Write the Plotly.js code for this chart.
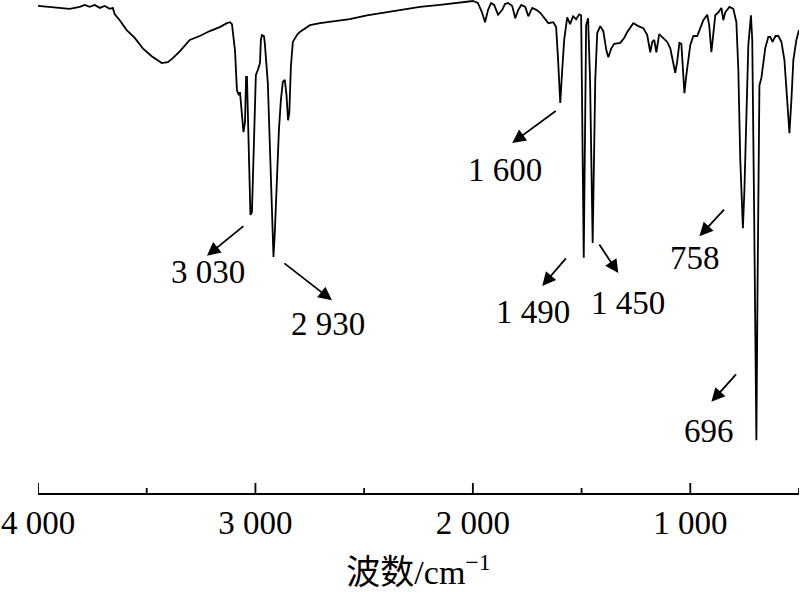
<!DOCTYPE html>
<html>
<head>
<meta charset="utf-8">
<script src="https://cdn.plot.ly/plotly-3.0.1.min.js"></script>
<style>html,body{margin:0;padding:0;background:#fff;}#chart{width:800px;height:597px;}</style>
</head>
<body>
<div id="chart"></div>
<script>
// Wavenumber (cm^-1) and transmittance (%)
const wavenumber = [4000,3946,3900,3854,3808,3785,3762,3739,3716,3693,3670,3656,3647,3624,3592,3555,3518,3477,3431,3403,3380,3348,3302,3256,3210,3164,3131,3117,3108,3094,3085,3076,3071,3062,3055,3048,3043,3039,3032,3023,3016,3007,2998,2989,2979,2975,2970,2961,2957,2943,2934,2924,2917,2911,2901,2892,2883,2874,2865,2857,2850,2844,2837,2828,2809,2796,2749,2703,2634,2566,2487,2404,2335,2243,2151,2082,2000,1977,1958,1944,1930,1916,1902,1884,1865,1852,1838,1819,1805,1791,1777,1759,1745,1727,1708,1690,1672,1653,1630,1617,1608,1598,1589,1580,1566,1553,1539,1525,1511,1502,1490,1479,1470,1461,1449,1437,1428,1414,1400,1386,1377,1363,1350,1322,1304,1290,1262,1239,1216,1198,1184,1175,1166,1156,1143,1124,1106,1092,1078,1069,1060,1050,1041,1034,1027,1018,1009,1000,986,968,954,940,922,913,903,894,885,871,857,848,839,820,802,788,779,770,758,751,742,733,721,715,707,700,696,691,687,682,673,664,655,641,632,622,608,595,581,567,553,544,535,526,512,500];
const transmittance = [98.8,98.6,98.4,98.2,98.6,99.0,98.6,99.0,98.4,98.8,98.2,98.4,97.1,95.9,93.9,92.3,90.2,88.6,87.2,87.4,88.2,89.6,91.9,92.7,93.7,94.5,95.3,95.5,95.1,89.8,81.7,80.7,81.3,76.7,73.2,75.2,84.4,84.4,69.6,56.4,57.0,69.6,84.8,85.8,87.2,91.9,92.9,92.7,91.3,83.2,71.6,57.4,47.9,52.7,65.3,73.6,79.7,83.4,83.8,80.7,75.6,77.2,86.4,91.5,92.9,93.5,94.9,95.3,95.7,96.1,96.9,97.5,98.0,98.6,99.0,99.4,99.8,99.4,97.5,95.5,98.0,99.4,99.0,97.0,98.0,99.2,99.4,98.8,96.3,98.0,99.0,98.6,96.7,98.4,98.0,97.4,96.3,95.3,95.5,94.5,87.8,79.1,85.8,91.9,96.5,95.1,96.7,96.1,97.1,96.9,47.7,94.9,96.3,83.8,50.7,83.8,93.3,94.7,93.7,89.8,88.4,90.2,91.1,91.3,92.3,93.5,95.3,94.7,94.3,92.9,89.4,91.5,91.9,89.4,93.1,92.3,91.5,90.2,86.8,85.2,87.6,91.3,91.1,84.8,81.1,84.8,87.8,90.9,92.7,92.7,94.3,95.9,97.0,94.9,89.4,94.0,96.9,97.5,98.4,95.9,97.5,98.6,98.2,95.5,85.8,67.5,53.7,61.5,77.7,90.9,96.9,91.9,59.9,22.9,10.7,39.9,69.6,82.7,84.2,87.8,90.3,92.5,92.5,91.5,92.7,92.7,91.5,87.8,79.7,73.0,79.7,87.8,91.9,93.9];

const tickValues = [4000, 3000, 2000, 1000];
const tickLabels = ['4 000', '3 000', '2 000', '1 000'];
const minorTickValues = [3500, 2500, 1500, 500];

// Peak labels: text, label position, arrow head position, arrow tail offset (px)
const peakLabels = ['1 600', '3 030', '2 930', '1 490', '1 450', '758', '696'];
const labelX = [1851, 3219, 2666, 1722, 1285, 977, 912];
const labelY = [65.5, 44.8, 34.3, 36.7, 38.5, 47.7, 12.6];
const arrowHeadX = [1819, 3223, 2648, 1681, 1331, 958, 903];
const arrowHeadY = [71.0, 48.1, 39.1, 42.0, 44.6, 52.1, 18.5];
const arrowTailDX = [45, 38, -49, 25, -20, 26, 26];
const arrowTailDY = [-33, -31, -38, -29, -30, -28, -29];

const serif = 'Liberation Serif, Times New Roman, serif';
const annotations = [];
peakLabels.forEach((t, i) => {
  annotations.push({
    x: arrowHeadX[i], y: arrowHeadY[i], xref: 'x', yref: 'y',
    text: '', showarrow: true, ax: arrowTailDX[i], ay: arrowTailDY[i],
    arrowhead: 2, arrowsize: 1.5, arrowwidth: 1.8, arrowcolor: '#000', standoff: 0, startstandoff: 0
  });
  annotations.push({
    x: labelX[i], y: labelY[i], xref: 'x', yref: 'y',
    text: t, showarrow: false, xanchor: 'center', yanchor: 'middle',
    font: {family: serif, size: 33, color: '#000'}
  });
});

// Inward tick marks drawn as short pixel-height lines at axis values
function tickShape(v, len) {
  return {
    type: 'line', xref: 'x', yref: 'paper', ysizemode: 'pixel', yanchor: 0,
    x0: v, x1: v, y0: 0, y1: len, layer: 'above',
    line: {color: '#000', width: 1.8}
  };
}
const shapes = tickValues.map(v => tickShape(v, 10)).concat(minorTickValues.map(v => tickShape(v, 5)));

const trace = {
  x: wavenumber, y: transmittance, type: 'scatter', mode: 'lines',
  line: {color: '#000', width: 1.8}, hoverinfo: 'skip'
};

const layout = {
  width: 800, height: 597,
  margin: {l: 38, r: 1, t: 0, b: 104},
  paper_bgcolor: '#fff', plot_bgcolor: '#fff',
  showlegend: false,
  xaxis: {
    range: [4000, 500], showgrid: false, zeroline: false,
    showline: true, linecolor: '#000', linewidth: 1.8,
    ticks: '',
    tickmode: 'array', tickvals: tickValues, ticktext: tickLabels,
    tickfont: {family: serif, size: 33, color: '#000'},
    title: {text: '波数/cm<sup>−1</sup>', font: {family: 'Liberation Serif, Noto Sans CJK SC, serif', size: 34, color: '#000'}, standoff: 20},
    automargin: false
  },
  yaxis: {range: [0, 100], visible: false, showgrid: false, zeroline: false},
  shapes: shapes,
  annotations: annotations
};

Plotly.newPlot('chart', [trace], layout, {staticPlot: true, displayModeBar: false});
</script>
</body>
</html>
